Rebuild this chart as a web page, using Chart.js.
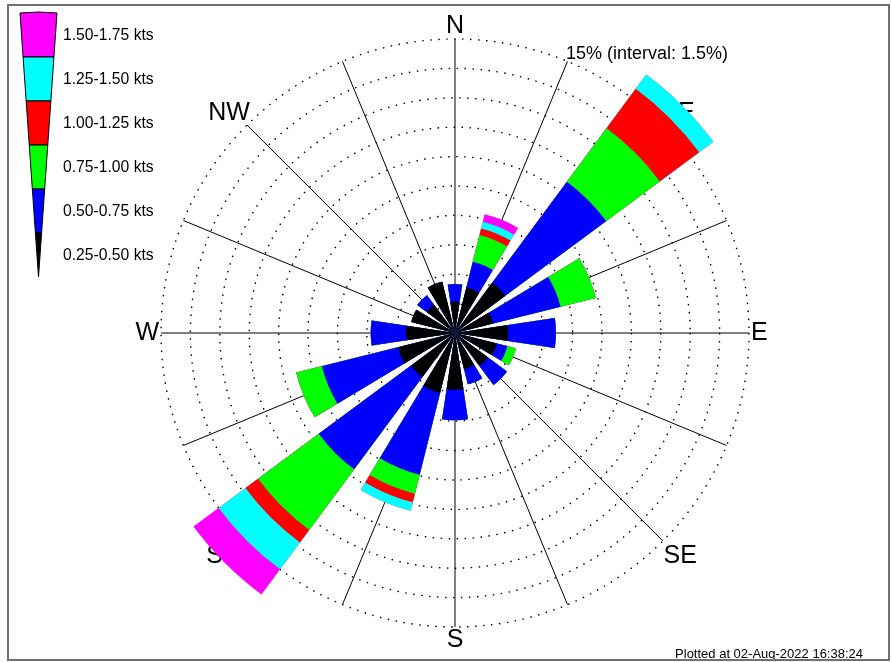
<!DOCTYPE html>
<html>
<head>
<meta charset="utf-8">
<title>Wind rose</title>
<script src="https://cdn.jsdelivr.net/npm/chart.js@4.4.0/dist/chart.umd.min.js"></script>
<style>
  html, body { margin: 0; padding: 0; background: #fff; overflow: hidden; }
  #wrap { position: relative; width: 892px; height: 662px; }
  #frame {
    position: absolute; left: 7px; top: 4px; width: 883px; height: 657px;
    box-sizing: border-box; border: 2px solid #707070; pointer-events: none;
  }
</style>
</head>
<body>
<div id="wrap">
  <canvas id="rose"></canvas>
  <div id="frame"></div>
</div>
<script>
// directions, clockwise from north
const directions = ['N', 'NNE', 'NE', 'ENE', 'E', 'ESE', 'SE', 'SSE', 'S', 'SSW', 'SW', 'WSW', 'W', 'WNW', 'NW', 'NNW'];
// labels drawn round the outer ring (one per direction)
const ringLabels = ['N', '15% (interval: 1.5%)', 'NE', '', 'E', '', 'SE', '', 'S', '', 'SW', '', 'W', '', 'NW', ''];

const speedBins = ['0.25-0.50 kts', '0.50-0.75 kts', '0.75-1.00 kts', '1.00-1.25 kts', '1.25-1.50 kts', '1.50-1.75 kts'];
const binColors = ['#000000', '#0000ff', '#00ff00', '#ff0000', '#00ffff', '#ff00ff'];

// frequency (%) per direction for each speed bin
const freq025 = [1.6, 2.4, 3.2, 2.0, 2.7, 2.2, 2.1, 1.9, 2.9, 3.15, 2.8, 3.0, 2.5, 2.3, 1.8, 2.7];
const freq050 = [0.9, 1.35, 6.4, 3.55, 2.45, 0.55, 1.2, 0.8, 1.55, 4.3, 5.85, 4.0, 1.8, 0, 0.6, 0];
const freq075 = [0, 1.4, 3.4, 1.85, 0, 0.45, 0, 0, 0, 1.0, 3.85, 1.35, 0, 0, 0, 0];
const freq100 = [0, 0.35, 2.5, 0, 0, 0, 0, 0, 0, 0.45, 0.8, 0, 0, 0, 0, 0];
const freq125 = [0, 0.35, 0.9, 0, 0, 0, 0, 0, 0, 0.45, 1.7, 0, 0, 0, 0, 0];
const freq150 = [0, 0.4, 0, 0, 0, 0, 0, 0, 0, 0, 1.6, 0, 0, 0, 0, 0];

const radialMax = 15;
const radialStep = 1.5;

const barWidth = 17;   // degrees of each paddle
const gapWidth = 22.5 - barWidth;

// stack the bins: each dataset holds the running total
const freqs = [freq025, freq050, freq075, freq100, freq125, freq150];
let running = directions.map(() => 0);
const stacked = freqs.map(f => {
    running = running.map((v, i) => v + f[i]);
    return running;
});

// the north paddle is split in two halves so the spokes line up with the paddles
function toSectors(vals) {
    const out = [vals[0]];
    for (let i = 1; i < vals.length; i++) out.push(0, vals[i]);
    out.push(0, vals[0]);
    return out;
}
const sectorCount = directions.length * 2 + 1;
const sectorAngles = Array.from({length: sectorCount}, (_, i) =>
    (i === 0 || i === sectorCount - 1) ? barWidth / 2 : (i % 2 ? gapWidth : barWidth));

const labelPad = [-2, -4, -4, 0, 2, 0, 1, 0, -2, 0, 1, 0, 2, 0, -4, 0];
const fontFamily = "'Liberation Sans', Arial, sans-serif";

const keyPlugin = {
    id: 'speedKey',
    afterDraw(chart) {
        const ctx = chart.ctx;
        const top = 13, step = 44, cx = 38.5, half = 18.5;
        const n = speedBins.length;
        const bottom = top + step * n;
        const w = y => half * (bottom - y) / (bottom - top);
        ctx.save();
        ctx.lineWidth = 1;
        ctx.strokeStyle = '#000';
        for (let k = 0; k < n; k++) {
            const b = n - 1 - k;
            const y0 = top + k * step;
            const y1 = y0 + step;
            ctx.beginPath();
            if (k === 0) {
                ctx.moveTo(cx - w(y0), y0);
                ctx.quadraticCurveTo(cx, y0 - 2, cx + w(y0), y0);
            } else {
                ctx.moveTo(cx - w(y0), y0);
                ctx.lineTo(cx + w(y0), y0);
            }
            ctx.lineTo(cx + w(y1), y1);
            ctx.lineTo(cx - w(y1), y1);
            ctx.closePath();
            ctx.fillStyle = binColors[b];
            ctx.fill();
            ctx.stroke();

            ctx.fillStyle = '#000';
            ctx.font = '15.7px ' + fontFamily;
            ctx.textAlign = 'left';
            ctx.textBaseline = 'middle';
            ctx.fillText(speedBins[b], 63, y0 + step / 2 + 1);
        }
        ctx.font = '13px ' + fontFamily;
        ctx.textAlign = 'right';
        ctx.textBaseline = 'alphabetic';
        ctx.fillText('Plotted at 02-Aug-2022 16:38:24', 863, 658);
        ctx.restore();
    }
};

new Chart(document.getElementById('rose'), {
    type: 'polarArea',
    data: {
        labels: ringLabels,
        datasets: stacked.map((vals, b) => ({
            label: speedBins[b],
            data: toSectors(vals),
            backgroundColor: binColors[b],
            borderWidth: 0,
            angle: sectorAngles
        }))
    },
    options: {
        responsive: true,
        maintainAspectRatio: false,
        animation: false,
        events: [],
        layout: {
            padding: { left: 100, right: 82, top: 11, bottom: 7 }
        },
        plugins: {
            legend: { display: false },
            tooltip: { enabled: false }
        },
        scales: {
            r: {
                min: 0,
                max: radialMax,
                startAngle: 0,
                ticks: { display: false, stepSize: radialStep },
                grid: { circular: true, color: '#000', lineWidth: 1.4 },
                border: { dash: [1.5, 6.5] },
                angleLines: { display: true, color: '#000', lineWidth: 1 },
                pointLabels: {
                    display: true,
                    color: '#000',
                    padding: ctx => labelPad[ctx.index],
                    font: ctx => ({
                        family: fontFamily,
                        size: ctx.index === 1 ? 18 : (ctx.label ? 25 : 1)
                    })
                }
            }
        }
    },
    plugins: [keyPlugin]
});
</script>
</body>
</html>
